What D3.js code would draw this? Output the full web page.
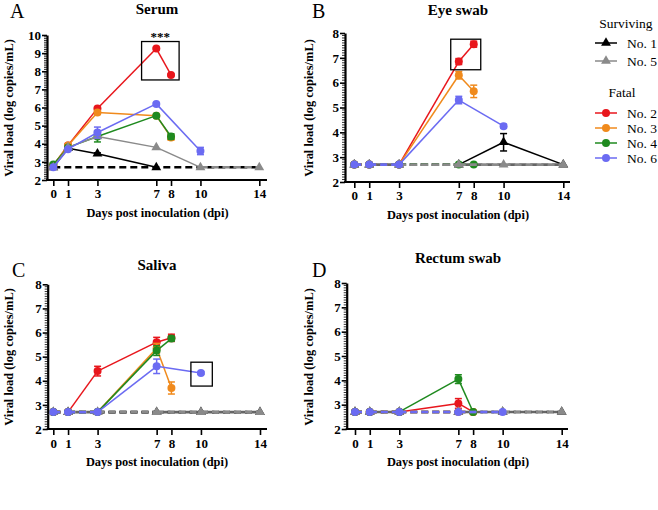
<!DOCTYPE html>
<html><head><meta charset="utf-8">
<script src="https://cdn.jsdelivr.net/npm/d3@7"></script>
</head>
<body style="margin:0">
<svg id="c" width="658" height="510"></svg>
<script>
// ---------------- DATA ----------------
const days = [0, 1, 3, 7, 8, 10, 14];
const LOD = 2.7;
const animals = ["No. 1", "No. 5", "No. 2", "No. 3", "No. 4", "No. 6"];
const groups = ["Surviving", "Surviving", "Fatal", "Fatal", "Fatal", "Fatal"];

// Serum  (rows follow `animals`)
const serumValues = [
  [2.7, 3.75, 3.45, 2.7, null, null, null],
  [2.7, 3.8, 4.4, 3.8, null, 2.7, 2.7],
  [2.8, 3.9, 5.95, 9.25, 7.8, null, null],
  [2.8, 3.9, 5.72, 5.55, 4.35, null, null],
  [2.85, 3.8, 4.4, 5.55, 4.4, null, null],
  [2.7, 3.7, 4.62, 6.2, null, 3.6, null]
];
const serumErrors = [
  [0, 0, 0.05, 0, 0, 0, 0],
  [0, 0, 0.06, 0, 0, 0, 0],
  [0, 0, 0.05, 0.05, 0.05, 0, 0],
  [0, 0, 0.1, 0, 0.15, 0, 0],
  [0.1, 0, 0.3, 0, 0.15, 0, 0],
  [0, 0, 0.3, 0.05, 0, 0.2, 0]
];
// Eye swab
const eyeValues = [
  [2.7, 2.7, 2.7, 2.7, null, 3.6, 2.7],
  [2.7, 2.7, 2.7, 2.7, null, 2.7, 2.7],
  [2.7, 2.7, 2.7, 6.85, 7.55, null, null],
  [2.7, 2.7, 2.7, 6.3, 5.65, null, null],
  [2.7, 2.7, 2.7, 2.7, 2.7, null, null],
  [2.7, 2.7, 2.7, 5.3, null, 4.25, null]
];
const eyeErrors = [
  [0, 0, 0, 0, 0, 0.35, 0],
  [0, 0, 0, 0, 0, 0, 0],
  [0, 0, 0, 0.12, 0.12, 0, 0],
  [0, 0, 0, 0.15, 0.25, 0, 0],
  [0, 0, 0, 0, 0, 0, 0],
  [0, 0, 0, 0.15, 0, 0.08, 0]
];
// Saliva
const salivaValues = [
  [2.7, 2.7, 2.7, 2.7, null, 2.7, 2.7],
  [2.7, 2.7, 2.7, 2.7, null, 2.7, 2.7],
  [2.7, 2.7, 4.4, 5.6, 5.78, null, null],
  [2.7, 2.7, 2.7, 5.35, 3.7, null, null],
  [2.7, 2.7, 2.7, 5.25, 5.75, null, null],
  [2.7, 2.7, 2.7, 4.6, null, 4.32, null]
];
const salivaErrors = [
  [0, 0, 0, 0, 0, 0, 0],
  [0, 0, 0, 0, 0, 0, 0],
  [0, 0, 0.2, 0.2, 0.15, 0, 0],
  [0, 0, 0, 0.2, 0.25, 0, 0],
  [0, 0, 0, 0.2, 0.1, 0, 0],
  [0, 0, 0, 0.3, 0, 0.05, 0]
];
// Rectum swab
const rectumValues = [
  [2.7, 2.7, 2.7, 2.7, null, 2.7, 2.7],
  [2.7, 2.7, 2.7, 2.7, null, 2.7, 2.7],
  [2.7, 2.7, 2.7, 3.05, 2.7, null, null],
  [2.7, 2.7, 2.7, 2.7, 2.7, null, null],
  [2.7, 2.7, 2.7, 4.05, 2.7, null, null],
  [2.7, 2.7, 2.7, 2.7, null, 2.7, null]
];
const rectumErrors = [
  [0, 0, 0, 0, 0, 0, 0],
  [0, 0, 0, 0, 0, 0, 0],
  [0, 0, 0, 0.2, 0, 0, 0],
  [0, 0, 0, 0, 0, 0, 0],
  [0, 0, 0, 0.18, 0, 0, 0],
  [0, 0, 0, 0, 0, 0, 0]
];
const panelTitles = ["Serum", "Eye swab", "Saliva", "Rectum swab"];
const panelLetters = ["A", "B", "C", "D"];
const yMax = [10, 8, 8, 8];
const xTitle = "Days post inoculation (dpi)";
const yTitle = "Viral load (log copies/mL)";
// highlight boxes [x0, x1, y0, y1] in data units
const boxes = [[6.0, 8.55, 7.52, 9.64], [6.46, 8.47, 6.52, 7.75], [9.32, 10.77, 3.78, 4.77], null];
const boxLabels = ["***", null, null, null];

// ---------------- STYLE / LAYOUT ----------------
const FONT = "Liberation Serif";
const colors = ["#000000", "#8a8a8a", "#e8161c", "#f08a1c", "#1f8a1f", "#6b6bf2"];
const shapes = ["tri", "tri", "circ", "circ", "circ", "circ"];
const drawOrder = [0, 2, 3, 4, 1, 5]; // No.1, No.2, No.3, No.4, No.5, No.6
const panelLayout = [
  {ax: 47, x0: 53.3, x1: 259.3, xe: 267, yb: 180, yt: 35, tick: 198, xt: 217, xc: 157.5, yl: 13, ylc: 108, tt: 14, tx: 157, lx: 10, ly: 18, ref: "#000"},
  {ax: 345, x0: 354.3, x1: 563.3, xe: 570, yb: 182, yt: 33, tick: 200, xt: 219, xc: 458, yl: 313, ylc: 108, tt: 15, tx: 458, lx: 312, ly: 18, ref: "#666"},
  {ax: 47.7, x0: 53.3, x1: 260, xe: 267, yb: 429, yt: 284.3, tick: 448, xt: 466, xc: 157, yl: 13, ylc: 357, tt: 270, tx: 157, lx: 12, ly: 277, ref: "#666"},
  {ax: 346.7, x0: 355, x1: 561.7, xe: 568, yb: 429, yt: 283, tick: 448, xt: 466, xc: 458, yl: 313, ylc: 357, tt: 263, tx: 458, lx: 312, ly: 277, ref: "#666"}
];
const allValues = [serumValues, eyeValues, salivaValues, rectumValues];
const allErrors = [serumErrors, eyeErrors, salivaErrors, rectumErrors];

const svg = d3.select("#c");
const triPath = d3.symbol().type(d3.symbolTriangle).size(42);

function marker(g, shape, color, x, y) {
  if (shape === "tri") {
    g.append("path").attr("d", triPath).attr("transform", `translate(${x},${y})`).attr("fill", color);
  } else {
    g.append("circle").attr("cx", x).attr("cy", y).attr("r", 4).attr("fill", color);
  }
}

panelLayout.forEach((L, p) => {
  const g = svg.append("g");
  const x = d3.scaleLinear().domain([0, 14]).range([L.x0, L.x1]);
  const y = d3.scaleLinear().domain([2, yMax[p]]).range([L.yb, L.yt]);

  // y axis with minor ticks
  const yAx = g.append("g").attr("transform", `translate(${L.ax},0)`)
    .call(d3.axisLeft(y).tickValues(d3.range(2, yMax[p] + 1)).tickFormat(d3.format("d"))
      .tickSize(5).tickPadding(1).tickSizeOuter(0));
  yAx.attr("font-family", null).attr("font-size", null);
  yAx.select(".domain").attr("stroke-width", 2.2);
  yAx.selectAll(".tick line").attr("stroke-width", 1.6);
  yAx.selectAll("text").attr("font-size", 13).attr("font-weight", "bold").attr("fill", "#000");
  const minor = d3.range(2, yMax[p], 0.1).filter(v => Math.abs(v - Math.round(v)) > 0.01);
  g.append("g").selectAll("line").data(minor).join("line")
    .attr("x1", L.ax - 3).attr("x2", L.ax).attr("y1", d => y(d)).attr("y2", d => y(d))
    .attr("stroke", "#000").attr("stroke-width", 0.8);

  // x axis
  g.append("line").attr("x1", L.ax - 1).attr("x2", L.xe).attr("y1", L.yb).attr("y2", L.yb)
    .attr("stroke", "#000").attr("stroke-width", 2.2);
  const xAx = g.append("g").attr("transform", `translate(0,${L.yb})`)
    .call(d3.axisBottom(x).tickValues(days).tickSize(6).tickSizeOuter(0).tickFormat(d3.format("d")));
  xAx.attr("font-family", null).attr("font-size", null);
  xAx.select(".domain").remove();
  xAx.selectAll(".tick line").attr("stroke-width", 1.6);
  xAx.selectAll("text").attr("y", null).attr("dy", null)
    .attr("transform", `translate(0,${L.tick - L.yb})`)
    .attr("font-size", 13).attr("font-weight", "bold").attr("fill", "#000");

  // titles
  g.append("text").attr("x", L.tx).attr("y", L.tt).attr("text-anchor", "middle")
    .attr("font-size", 15).attr("font-weight", "bold").text(panelTitles[p]);
  g.append("text").attr("x", L.lx).attr("y", L.ly).attr("font-size", 20).text(panelLetters[p]);
  g.append("text").attr("x", L.xc).attr("y", L.xt).attr("text-anchor", "middle")
    .attr("font-size", 12.4).attr("font-weight", "bold").text(xTitle);
  g.append("text").attr("transform", `translate(${L.yl},${L.ylc}) rotate(-90)`).attr("text-anchor", "middle")
    .attr("font-size", 12.4).attr("font-weight", "bold").text(yTitle);

  // reference (detection limit) dashed line
  g.append("line").attr("x1", x(0)).attr("x2", x(14)).attr("y1", y(LOD)).attr("y2", y(LOD))
    .attr("stroke", L.ref).attr("stroke-width", 2.6).attr("stroke-dasharray", "7,4");

  // series
  drawOrder.forEach(s => {
    const vals = allValues[p][s];
    const pts = days.map((d, i) => ({d, v: vals[i], e: allErrors[p][s][i]})).filter(o => o.v !== null);
    const sg = g.append("g");
    for (let i = 0; i < pts.length - 1; i++) {
      const a = pts[i], b = pts[i + 1];
      const dashed = a.v <= LOD && b.v <= LOD;
      sg.append("line").attr("x1", x(a.d)).attr("y1", y(a.v)).attr("x2", x(b.d)).attr("y2", y(b.v))
        .attr("stroke", colors[s]).attr("stroke-width", dashed ? 2.6 : 1.5)
        .attr("stroke-dasharray", dashed ? "7,4" : null);
    }
    pts.forEach(o => {
      if (o.e > 0) {
        const cx = x(o.d);
        sg.append("line").attr("x1", cx).attr("x2", cx).attr("y1", y(o.v - o.e)).attr("y2", y(o.v + o.e))
          .attr("stroke", colors[s]).attr("stroke-width", 1.5);
        [o.v - o.e, o.v + o.e].forEach(v => sg.append("line").attr("x1", cx - 3.5).attr("x2", cx + 3.5)
          .attr("y1", y(v)).attr("y2", y(v)).attr("stroke", colors[s]).attr("stroke-width", 1.5));
      }
      marker(sg, shapes[s], colors[s], x(o.d), y(o.v));
    });
  });

  // highlight box
  const b = boxes[p];
  if (b) {
    g.append("rect").attr("x", x(b[0])).attr("y", y(b[3])).attr("width", x(b[1]) - x(b[0])).attr("height", y(b[2]) - y(b[3]))
      .attr("fill", "none").attr("stroke", "#000").attr("stroke-width", 1.3);
    if (boxLabels[p]) {
      g.append("text").attr("x", x((b[0] + b[1]) / 2)).attr("y", y(b[3]) - 1).attr("text-anchor", "middle")
        .attr("font-size", 13).attr("font-weight", "bold").text(boxLabels[p]);
    }
  }
});

// legend
const leg = svg.append("g");
leg.append("text").attr("x", 626).attr("y", 28).attr("text-anchor", "middle").attr("font-size", 13.5).text(groups[0]);
leg.append("text").attr("x", 622).attr("y", 97).attr("text-anchor", "middle").attr("font-size", 13.5).text(groups[2]);
const legY = [43, 61, 113, 128, 143, 158];
animals.forEach((name, i) => {
  leg.append("line").attr("x1", 595).attr("x2", 617).attr("y1", legY[i]).attr("y2", legY[i])
    .attr("stroke", colors[i]).attr("stroke-width", 1.5);
  marker(leg, shapes[i], colors[i], 606, legY[i]);
  leg.append("text").attr("x", 627).attr("y", legY[i] + 5).attr("font-size", 13.5).text(name);
});

// apply serif font on every text (attribute and inline style)
svg.selectAll("text").attr("font-family", FONT).style("font-family", FONT);
</script></body></html>
